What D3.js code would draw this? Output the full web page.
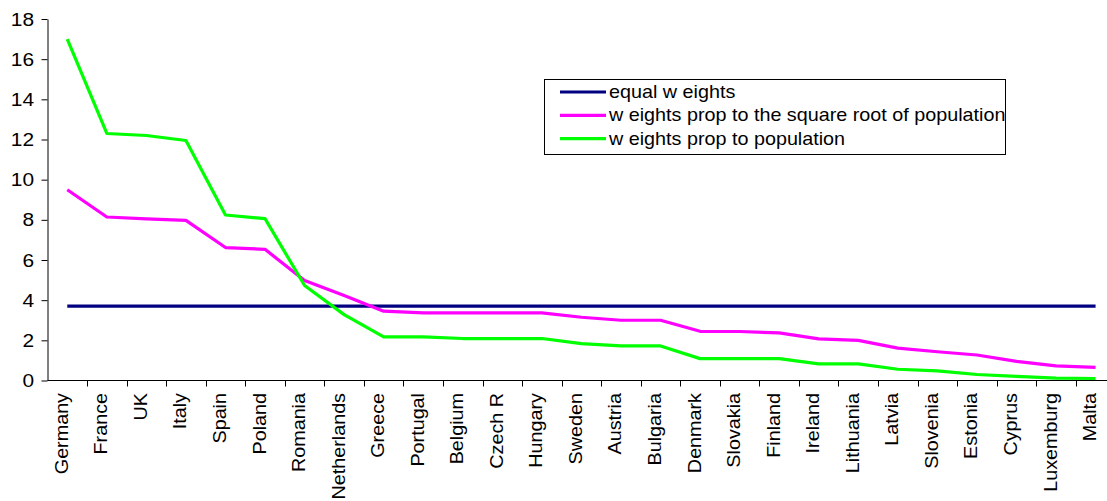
<!DOCTYPE html>
<html>
<head>
<meta charset="utf-8">
<script src="https://cdn.jsdelivr.net/npm/d3@7"></script>
<style>
  html, body { margin: 0; padding: 0; background: #fff; }
  svg { display: block; font-family: "Liberation Sans", Arial, sans-serif; }
</style>
</head>
<body>
<svg id="chart" width="1107" height="501"></svg>
<script>
// Country order (largest to smallest population)
const countries = ["Germany", "France", "UK", "Italy", "Spain", "Poland", "Romania",
  "Netherlands", "Greece", "Portugal", "Belgium", "Czech R", "Hungary", "Sweden",
  "Austria", "Bulgaria", "Denmark", "Slovakia", "Finland", "Ireland", "Lithuania",
  "Latvia", "Slovenia", "Estonia", "Cyprus", "Luxemburg", "Malta"];

// Weight (%) of each country under the three schemes
const equalWeights = countries.map(() => 100 / 27);
const sqrtPopWeights = [9.5, 8.14, 8.05, 7.97, 6.62, 6.53, 4.98, 4.23, 3.45, 3.37, 3.37, 3.37,
  3.37, 3.15, 3.0, 3.0, 2.45, 2.44, 2.37, 2.07, 2.0, 1.61, 1.43, 1.27, 0.95, 0.73, 0.65];
const popWeights = [17.0, 12.3, 12.2, 11.95, 8.24, 8.06, 4.73, 3.28, 2.17, 2.17, 2.09, 2.09,
  2.09, 1.84, 1.72, 1.72, 1.09, 1.09, 1.09, 0.83, 0.83, 0.56, 0.48, 0.3, 0.21, 0.12, 0.1];

const yTicks = [0, 2, 4, 6, 8, 10, 12, 14, 16, 18];

const seriesNames = ["equal w eights", "w eights prop to the square root of population", "w eights prop to population"];
const seriesColors = ["#000080", "#ff00ff", "#00ff00"];
const seriesValues = [equalWeights, sqrtPopWeights, popWeights];

const svg = d3.select("#chart");
const left = 47.5, bandW = 39.55;
const x = d3.scaleBand().domain(countries).range([left, left + bandW * countries.length]);
const y = d3.scaleLinear().domain([0, 18]).range([380.5, 19]);

// Y axis
const yAxis = d3.axisLeft(y).tickValues(yTicks).tickSize(6).tickPadding(0).tickSizeOuter(0);
const gy = svg.append("g").attr("transform", `translate(${left},0)`).call(yAxis);
gy.select(".domain").attr("stroke", "#000");
gy.selectAll(".tick line").attr("stroke", "#000");
gy.selectAll(".tick text").attr("font-size", 19).attr("fill", "#000")
  .attr("font-family", "Liberation Sans, Arial, sans-serif")
  .attr("x", -13.5 / 1.1).attr("transform", "scale(1.1,1)");

// X axis line and category boundary ticks
const gx = svg.append("g");
gx.append("line").attr("x1", left).attr("x2", 1107).attr("y1", y(0)).attr("y2", y(0)).attr("stroke", "#000");
gx.selectAll("line.tk").data(countries).join("line").attr("class", "tk")
  .attr("x1", d => Math.round(x(d) + bandW) + 0.5).attr("x2", d => Math.round(x(d) + bandW) + 0.5)
  .attr("y1", y(0)).attr("y2", y(0) + 6).attr("stroke", "#000");
gx.selectAll("text").data(countries).join("text")
  .attr("transform", d => `translate(${x(d) + bandW / 2 + 0.5},393) rotate(-90) scale(1.04,1)`)
  .attr("text-anchor", "end").attr("font-size", 19).attr("fill", "#000")
  .text(d => d);

// Lines
const line = d3.line()
  .x((d, i) => x(countries[i]) + bandW / 2)
  .y(d => y(d));
svg.selectAll("path.series").data(seriesValues).join("path").attr("class", "series")
  .attr("d", line).attr("fill", "none")
  .attr("stroke", (d, i) => seriesColors[i]).attr("stroke-width", 3.2)
  .attr("stroke-linejoin", "round");

// Legend
const lg = svg.append("g");
lg.append("rect").attr("x", 544.5).attr("y", 79.5).attr("width", 461).attr("height", 75)
  .attr("fill", "#fff").attr("stroke", "#000");
seriesNames.forEach((name, i) => {
  const ly = 92 + i * 23.3;
  lg.append("line").attr("x1", 560).attr("x2", 606).attr("y1", ly).attr("y2", ly)
    .attr("stroke", seriesColors[i]).attr("stroke-width", 3.2);
  lg.append("text").attr("transform", `translate(609,${ly + 6}) scale(1.04,1)`)
    .attr("font-size", 19).attr("fill", "#000").text(name);
});
</script>
</body>
</html>
